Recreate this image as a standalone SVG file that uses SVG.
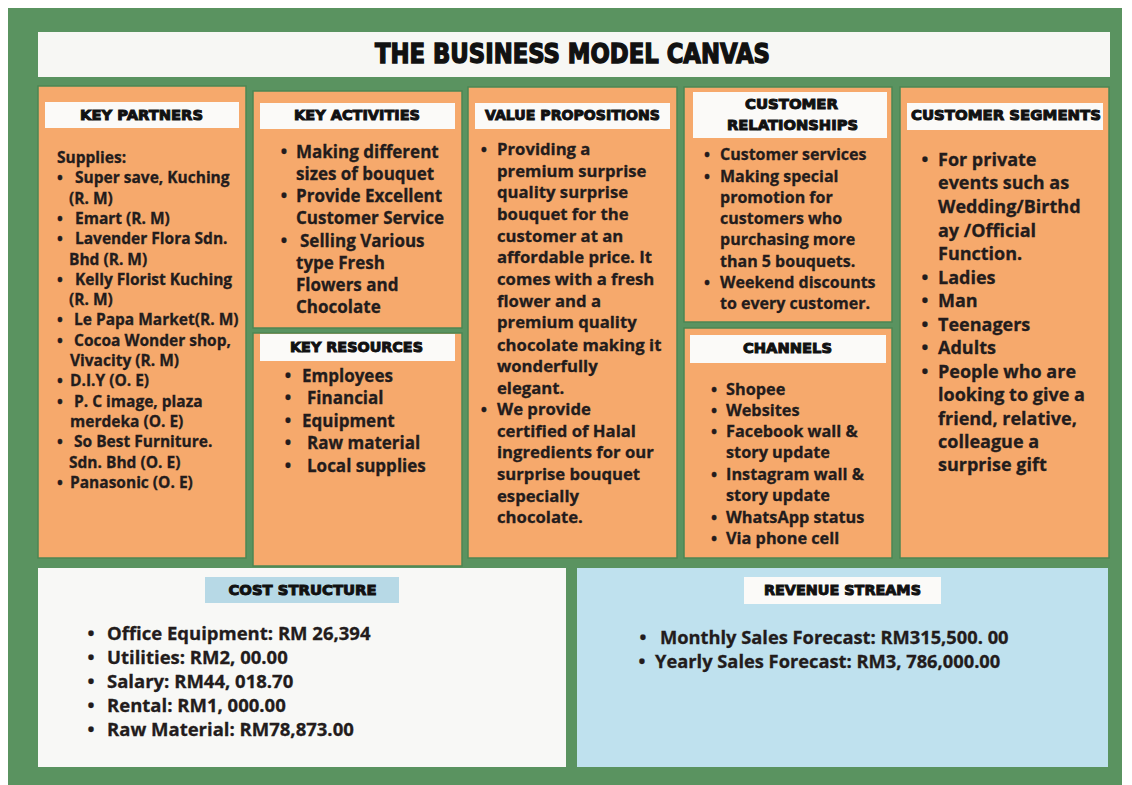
<svg xmlns="http://www.w3.org/2000/svg" width="1132" height="785" viewBox="0 0 1132 785">
<style>
.box{fill:#f6a96c;stroke:#4c8753;stroke-width:1.5}
.hdbox{fill:#fbfaf8;stroke:none}
.hd{font-family:"DejaVu Sans","Liberation Sans",sans-serif;font-weight:700;font-size:14.5px;fill:#111;stroke:#111;stroke-width:1;text-anchor:middle}
.tx{font-family:"Open Sans","Noto Sans","Liberation Sans",sans-serif;font-weight:700;fill:#231c1c;stroke:#231c1c;stroke-width:0.3}
.b{text-anchor:middle}
</style>
<rect x="0" y="0" width="1132" height="785" fill="#ffffff"/>
<rect x="8" y="8" width="1114" height="777" fill="#5a9360"/>

<g id="title">
<rect x="38" y="32" width="1072" height="45" fill="#f7f7f4"/>
<text class="hd" x="572.5" y="63" style="font-size:26px;stroke-width:1.4" textLength="395" lengthAdjust="spacingAndGlyphs">THE BUSINESS MODEL CANVAS</text>
</g>

<g id="key-partners" class="tx" style="font-size:15.5px">
<rect class="box" x="38" y="86" width="208" height="472"/>
<rect class="hdbox" x="45" y="102" width="194" height="26"/>
<text class="hd" x="141.5" y="120" textLength="123" lengthAdjust="spacingAndGlyphs">KEY PARTNERS</text>
<text x="57" y="163">Supplies:</text>
<text class="b" x="60" y="183">•</text><text x="75" y="183">Super save, Kuching</text>
<text x="69" y="204">(R. M)</text>
<text class="b" x="60" y="224">•</text><text x="75" y="224">Emart (R. M)</text>
<text class="b" x="60" y="244">•</text><text x="75" y="244">Lavender Flora Sdn.</text>
<text x="69" y="265">Bhd (R. M)</text>
<text class="b" x="60" y="285">•</text><text x="75" y="285">Kelly Florist Kuching</text>
<text x="69" y="305">(R. M)</text>
<text class="b" x="60" y="325">•</text><text x="74" y="325">Le Papa Market(R. M)</text>
<text class="b" x="60" y="346">•</text><text x="74" y="346">Cocoa Wonder shop,</text>
<text x="70" y="366">Vivacity (R. M)</text>
<text class="b" x="60" y="386">•</text><text x="70" y="386">D.I.Y (O. E)</text>
<text class="b" x="60" y="407">•</text><text x="74" y="407">P. C image, plaza</text>
<text x="70" y="427">merdeka (O. E)</text>
<text class="b" x="60" y="447">•</text><text x="74" y="447">So Best Furniture.</text>
<text x="69" y="468">Sdn. Bhd (O. E)</text>
<text class="b" x="60" y="488">•</text><text x="70" y="488">Panasonic (O. E)</text>
</g>

<g id="key-activities" class="tx" style="font-size:17px">
<rect class="box" x="253" y="91" width="209" height="237"/>
<rect class="hdbox" x="260" y="103" width="195" height="26"/>
<text class="hd" x="357" y="120" textLength="126" lengthAdjust="spacingAndGlyphs">KEY ACTIVITIES</text>
<text class="b" x="284" y="158">•</text><text x="296" y="158">Making different</text>
<text x="296" y="180">sizes of bouquet</text>
<text class="b" x="284" y="202">•</text><text x="296" y="202">Provide Excellent</text>
<text x="296" y="224">Customer Service</text>
<text class="b" x="284" y="247">•</text><text x="300" y="247">Selling Various</text>
<text x="296" y="269">type Fresh</text>
<text x="296" y="291">Flowers and</text>
<text x="296" y="313">Chocolate</text>
</g>

<g id="key-resources" class="tx" style="font-size:17px">
<rect class="box" x="253" y="333" width="209" height="233"/>
<rect class="hdbox" x="260" y="334" width="195" height="27"/>
<text class="hd" x="356.5" y="352" textLength="133" lengthAdjust="spacingAndGlyphs">KEY RESOURCES</text>
<text class="b" x="288" y="382">•</text><text x="302" y="382">Employees</text>
<text class="b" x="288" y="404">•</text><text x="307" y="404">Financial</text>
<text class="b" x="288" y="427">•</text><text x="302" y="427">Equipment</text>
<text class="b" x="288" y="449">•</text><text x="307" y="449">Raw material</text>
<text class="b" x="288" y="472">•</text><text x="307" y="472">Local supplies</text>
</g>

<g id="value-propositions" class="tx" style="font-size:16.7px">
<rect class="box" x="468" y="87" width="209" height="471"/>
<rect class="hdbox" x="475" y="103" width="195" height="26"/>
<text class="hd" x="572.5" y="120" textLength="175" lengthAdjust="spacingAndGlyphs">VALUE PROPOSITIONS</text>
<text class="b" x="484" y="155">•</text><text x="497" y="155">Providing a</text>
<text x="497" y="177">premium surprise</text>
<text x="497" y="198">quality surprise</text>
<text x="497" y="220">bouquet for the</text>
<text x="497" y="242">customer at an</text>
<text x="497" y="263">affordable price. It</text>
<text x="497" y="285">comes with a fresh</text>
<text x="497" y="307">flower and a</text>
<text x="497" y="328">premium quality</text>
<text x="497" y="351">chocolate making it</text>
<text x="497" y="372">wonderfully</text>
<text x="497" y="394">elegant.</text>
<text class="b" x="484" y="415">•</text><text x="497" y="415">We provide</text>
<text x="497" y="437">certified of Halal</text>
<text x="497" y="458">ingredients for our</text>
<text x="497" y="480">surprise bouquet</text>
<text x="497" y="502">especially</text>
<text x="497" y="523">chocolate.</text>
</g>

<g id="customer-relationships" class="tx" style="font-size:16px">
<rect class="box" x="684" y="87" width="208" height="235"/>
<rect class="hdbox" x="693" y="92" width="194" height="46"/>
<text class="hd" x="791.5" y="109" textLength="93" lengthAdjust="spacingAndGlyphs">CUSTOMER</text>
<text class="hd" x="792.5" y="130" textLength="131" lengthAdjust="spacingAndGlyphs">RELATIONSHIPS</text>
<text class="b" x="707" y="160">•</text><text x="720" y="160">Customer services</text>
<text class="b" x="707" y="182">•</text><text x="720" y="182">Making special</text>
<text x="720" y="203">promotion for</text>
<text x="720" y="224">customers who</text>
<text x="720" y="245">purchasing more</text>
<text x="720" y="267">than 5 bouquets.</text>
<text class="b" x="707" y="288">•</text><text x="720" y="288">Weekend discounts</text>
<text x="720" y="309">to every customer.</text>
</g>

<g id="channels" class="tx" style="font-size:16.3px">
<rect class="box" x="684" y="328" width="208" height="230"/>
<rect class="hdbox" x="690" y="335" width="196" height="28"/>
<text class="hd" x="787.5" y="353" textLength="89" lengthAdjust="spacingAndGlyphs">CHANNELS</text>
<text class="b" x="714" y="395">•</text><text x="726" y="395">Shopee</text>
<text class="b" x="714" y="416">•</text><text x="726" y="416">Websites</text>
<text class="b" x="714" y="437">•</text><text x="726" y="437">Facebook wall &amp;</text>
<text x="726" y="458">story update</text>
<text class="b" x="714" y="480">•</text><text x="726" y="480">Instagram wall &amp;</text>
<text x="726" y="501">story update</text>
<text class="b" x="714" y="523">•</text><text x="726" y="523">WhatsApp status</text>
<text class="b" x="714" y="544">•</text><text x="726" y="544">Via phone cell</text>
</g>

<g id="customer-segments" class="tx" style="font-size:18px">
<rect class="box" x="900" y="87" width="209" height="471"/>
<rect class="hdbox" x="907" y="103" width="196" height="27"/>
<text class="hd" x="1006" y="120" textLength="190" lengthAdjust="spacingAndGlyphs">CUSTOMER SEGMENTS</text>
<text class="b" x="925" y="166">•</text><text x="938" y="166">For private</text>
<text x="938" y="189">events such as</text>
<text x="938" y="213">Wedding/Birthd</text>
<text x="938" y="237">ay /Official</text>
<text x="938" y="260">Function.</text>
<text class="b" x="925" y="284">•</text><text x="938" y="284">Ladies</text>
<text class="b" x="925" y="307">•</text><text x="938" y="307">Man</text>
<text class="b" x="925" y="331">•</text><text x="938" y="331">Teenagers</text>
<text class="b" x="925" y="354">•</text><text x="938" y="354">Adults</text>
<text class="b" x="925" y="378">•</text><text x="938" y="378">People who are</text>
<text x="938" y="401">looking to give a</text>
<text x="938" y="425">friend, relative,</text>
<text x="938" y="448">colleague a</text>
<text x="938" y="471">surprise gift</text>
</g>

<g id="cost-structure" class="tx" style="font-size:18.5px">
<rect x="38" y="568" width="528" height="199" fill="#f8f8f6" stroke="none"/>
<rect x="205" y="577" width="194" height="26" fill="#b7d9e6" stroke="none"/>
<text class="hd" x="302.5" y="595" textLength="148" lengthAdjust="spacingAndGlyphs">COST STRUCTURE</text>
<text class="b" x="91" y="640">•</text><text x="107" y="640">Office Equipment: RM 26,394</text>
<text class="b" x="91" y="664">•</text><text x="107" y="664">Utilities: RM2, 00.00</text>
<text class="b" x="91" y="688">•</text><text x="107" y="688">Salary: RM44, 018.70</text>
<text class="b" x="91" y="712">•</text><text x="107" y="712">Rental: RM1, 000.00</text>
<text class="b" x="91" y="736">•</text><text x="107" y="736">Raw Material: RM78,873.00</text>
</g>

<g id="revenue-streams" class="tx" style="font-size:18.3px">
<rect x="577" y="568" width="531" height="199" fill="#bfe1ee" stroke="none"/>
<rect x="744" y="577" width="197" height="27" fill="#fbfaf8" stroke="none"/>
<text class="hd" x="842.5" y="595" textLength="157" lengthAdjust="spacingAndGlyphs">REVENUE STREAMS</text>
<text class="b" x="643" y="644">•</text><text x="660" y="644">Monthly Sales Forecast: RM315,500. 00</text>
<text class="b" x="642" y="668">•</text><text x="655" y="668">Yearly Sales Forecast: RM3, 786,000.00</text>
</g>
</svg>
